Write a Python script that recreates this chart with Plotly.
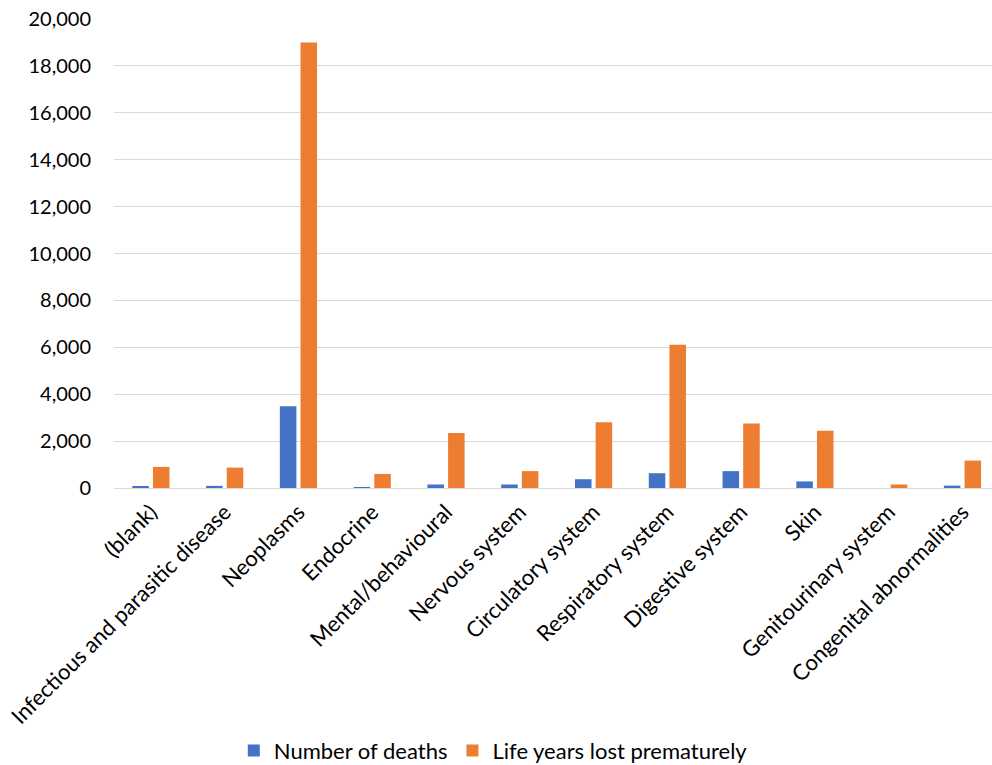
import plotly.graph_objects as go

categories = ["(blank)", "Infectious and parasitic disease", "Neoplasms", "Endocrine",
              "Mental/behavioural", "Nervous system", "Circulatory system",
              "Respiratory system", "Digestive system", "Skin",
              "Genitourinary system", "Congenital abnormalities"]
deaths = [70, 90, 3490, 40, 150, 150, 375, 630, 720, 280, 0, 100]
life_years_lost = [900, 870, 19000, 600, 2350, 720, 2800, 6110, 2750, 2440, 150, 1170]
y_ticks = list(range(0, 20001, 2000))

FONT = "Lato, 'Noto Sans', sans-serif"

fig = go.Figure()
fig.add_trace(go.Bar(x=categories, y=deaths, name="Number of deaths",
                     marker=dict(color="#4472C4", line=dict(width=0))))
fig.add_trace(go.Bar(x=categories, y=life_years_lost, name="Life years lost prematurely",
                     marker=dict(color="#ED7D31", line=dict(width=0))))

fig.update_layout(
    width=992, height=765,
    margin=dict(l=114, r=0, t=19, b=277, autoexpand=False),
    paper_bgcolor="white", plot_bgcolor="white",
    font=dict(family=FONT, size=20, color="#000000"),
    barmode="group", bargap=0.44, bargroupgap=0.2,
    showlegend=True,
    legend=dict(orientation="h", x=0.432, xanchor="center", y=-0.56, yanchor="middle",
                font=dict(size=22), traceorder="normal", itemwidth=30,
                bgcolor="rgba(0,0,0,0)"),
    xaxis=dict(type="category", range=[-0.5, 11.4], tickangle=-45,
               showgrid=False, showline=False, ticks="", zeroline=False,
               automargin=False,
               ticklabelstandoff=6, tickfont=dict(size=22)),
    yaxis=dict(range=[0, 20000], tickvals=y_ticks, tickformat=",",
               showgrid=True, gridcolor="#d9d9d9", gridwidth=1,
               zeroline=True, zerolinecolor="#d9d9d9", zerolinewidth=1,
               showline=False, ticks="", ticklabelstandoff=22,
               automargin=False,
               tickfont=dict(size=20)),
)

fig.write_html("out.html")
